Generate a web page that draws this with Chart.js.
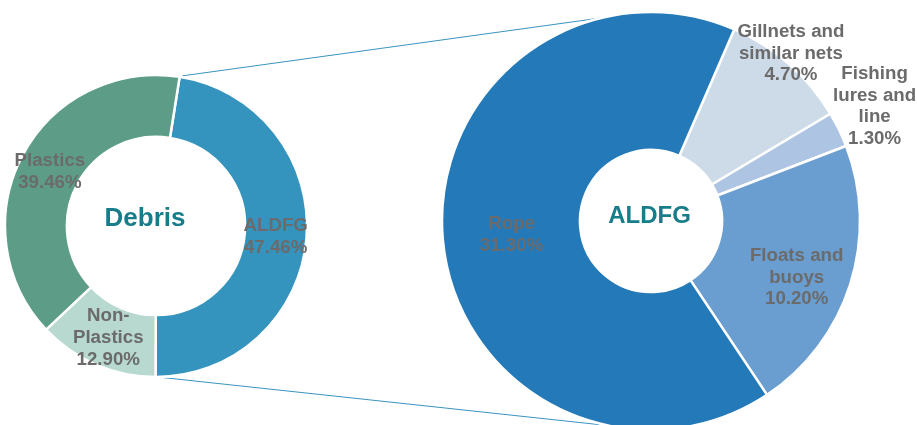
<!DOCTYPE html>
<html>
<head>
<meta charset="utf-8">
<script src="https://cdn.jsdelivr.net/npm/chart.js@4.4.0/dist/chart.umd.min.js"></script>
<style>
html,body{margin:0;padding:0;background:#fff;}
#wrap{position:relative;width:917px;height:425px;overflow:hidden;}
#wrap canvas{position:absolute;left:0;top:0;}
</style>
</head>
<body>
<div id="wrap">
<canvas id="right" width="917" height="425"></canvas>
<canvas id="left" width="917" height="425"></canvas>
</div>
<script>
// ---- Data ----
const debrisCategories = [["ALDFG"], ["Non-", "Plastics"], ["Plastics"]];
const debrisValues = [47.46, 12.90, 39.46];
const debrisColors = ["#3594bd", "#b7d9cf", "#5d9d88"];

const aldfgCategories = [["Gillnets and", "similar nets"], ["Fishing", "lures and", "line"], ["Floats and", "buoys"], ["Rope"]];
const aldfgValues = [4.70, 1.30, 10.20, 31.30];
const aldfgColors = ["#cddbe8", "#adc4e3", "#6a9dd0", "#2479b9"];

const LABEL_FONT = 'bold 18.7px "Liberation Sans", Arial, sans-serif';
const LABEL_COLOR = '#6b6b6b';
const CENTER_COLOR = '#177d8a';

function fmt(v){ return v.toFixed(2) + '%'; }

const sliceLabels = {
  id: 'sliceLabels',
  afterDatasetsDraw(chart, args, opts) {
    const ctx = chart.ctx;
    const meta = chart.getDatasetMeta(0);
    const ds = chart.data.datasets[0];
    ctx.save();
    ctx.font = LABEL_FONT;
    ctx.fillStyle = LABEL_COLOR;
    ctx.textAlign = 'center';
    ctx.textBaseline = 'alphabetic';
    const lh = opts.lineHeight;
    meta.data.forEach((arc, i) => {
      const p = arc.getProps(['x','y','startAngle','endAngle','innerRadius','outerRadius'], true);
      const mid = (p.startAngle + p.endAngle) / 2;
      const place = (opts.place && opts.place[i]) || {};
      const rad = place.r !== undefined ? place.r : (p.innerRadius + p.outerRadius) / 2;
      const ax = p.x + Math.cos(mid) * rad + (place.dx || 0);
      const ay = p.y + Math.sin(mid) * rad + (place.dy || 0);
      const lines = chart.data.labels[i].concat([fmt(ds.data[i])]);
      const n = lines.length;
      lines.forEach((t, k) => {
        const y = ay + (k - (n - 1) / 2) * lh + 0.358 * 18.7;
        ctx.fillText(t, ax, y);
      });
    });
    ctx.restore();
  }
};

const centerText = {
  id: 'centerText',
  afterDatasetsDraw(chart, args, opts) {
    const ctx = chart.ctx;
    const arc = chart.getDatasetMeta(0).data[0];
    const p = arc.getProps(['x','y'], true);
    ctx.save();
    ctx.font = 'bold ' + opts.size + 'px "Liberation Sans", Arial, sans-serif';
    ctx.fillStyle = CENTER_COLOR;
    ctx.textAlign = 'center';
    ctx.textBaseline = 'alphabetic';
    ctx.fillText(opts.text, p.x + opts.dx, p.y + opts.dy + 0.358 * opts.size);
    ctx.restore();
  }
};

Chart.defaults.animation = false;
Chart.defaults.plugins.legend.display = false;
Chart.defaults.plugins.tooltip.enabled = false;

const leftChart = new Chart(document.getElementById('left'), {
  type: 'doughnut',
  data: {
    labels: debrisCategories,
    datasets: [{
      data: debrisValues,
      backgroundColor: debrisColors,
      borderColor: '#ffffff',
      borderWidth: 2.5
    }]
  },
  options: {
    responsive: false,
    rotation: 9,
    radius: 151,
    cutout: '59%',
    layout: { padding: { left: 0, right: 605, top: 76, bottom: 49 } },
    plugins: {
      sliceLabels: { lineHeight: 22 },
      centerText: { text: 'Debris', size: 26, dx: -11, dy: -9 }
    }
  },
  plugins: [sliceLabels, centerText]
});

// connector lines: tangents from the ends of the left ALDFG slice to the right doughnut
const connectors = {
  id: 'connectors',
  beforeDatasetsDraw(chart) {
    const ctx = chart.ctx;
    const la = leftChart.getDatasetMeta(0).data[0].getProps(['x','y','startAngle','endAngle','outerRadius'], true);
    const ra = chart.getDatasetMeta(0).data[0].getProps(['x','y','outerRadius'], true);
    const R = ra.outerRadius - 1;
    function tangent(px, py, sign) {
      const dx = ra.x - px, dy = ra.y - py;
      const d = Math.hypot(dx, dy);
      const base = Math.atan2(dy, dx);
      const a = Math.asin(R / d);
      const th = base + sign * a;
      const L = Math.sqrt(d * d - R * R);
      return [px + Math.cos(th) * L, py + Math.sin(th) * L];
    }
    const lr = la.outerRadius - 1;
    const p1 = [la.x + Math.cos(la.startAngle) * lr, la.y + Math.sin(la.startAngle) * lr];
    const p2 = [la.x + Math.cos(la.endAngle) * lr, la.y + Math.sin(la.endAngle) * lr];
    const t1 = tangent(p1[0], p1[1], -1);
    const t2 = tangent(p2[0], p2[1], 1);
    ctx.save();
    ctx.strokeStyle = '#3a93c0';
    ctx.lineWidth = 1;
    ctx.beginPath();
    ctx.moveTo(p1[0] + 3, p1[1] - 2); ctx.lineTo(t1[0], t1[1]);
    ctx.moveTo(p2[0] + 2, p2[1] + 1); ctx.lineTo(t2[0], t2[1]);
    ctx.stroke();
    ctx.restore();
  }
};

const rightChart = new Chart(document.getElementById('right'), {
  type: 'doughnut',
  data: {
    labels: aldfgCategories,
    datasets: [{
      data: aldfgValues,
      backgroundColor: aldfgColors,
      borderColor: '#ffffff',
      borderWidth: 2.5
    }]
  },
  options: {
    responsive: false,
    rotation: 23.5,
    radius: 209,
    cutout: '34%',
    layout: { padding: { left: 443, right: 58, top: 17, bottom: 0 } },
    plugins: {
      sliceLabels: {
        lineHeight: 21.5,
        place: [
          { r: 218, dx: -4, dy: -5 },
          { r: 252, dx: -3, dy: -6 },
          { r: 156, dx: -3, dy: 8 },
          {}
        ]
      },
      centerText: { text: 'ALDFG', size: 24, dx: -1.5, dy: -6.5 }
    }
  },
  plugins: [connectors, sliceLabels, centerText]
});
</script>
</body>
</html>
